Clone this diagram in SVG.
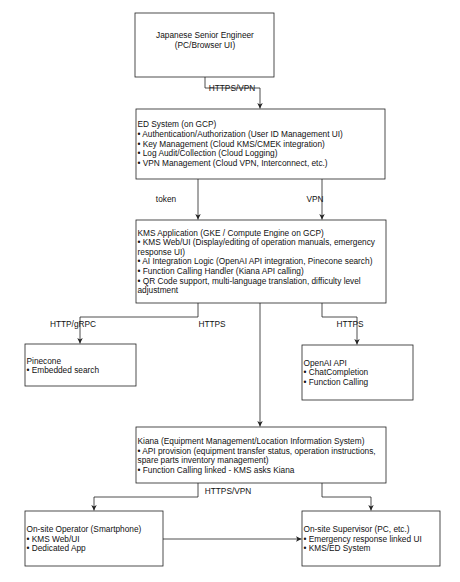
<svg xmlns="http://www.w3.org/2000/svg" width="460" height="582" viewBox="0 0 460 582">
<defs>
<marker id="ah" viewBox="0 0 10 10" refX="10" refY="5" markerWidth="5.5" markerHeight="5.5" orient="auto" markerUnits="userSpaceOnUse">
<path d="M0,0 L10,5 L0,10 L2.5,5 Z" fill="#222"/>
</marker>
<style>
.box{fill:#fff;stroke:#222;stroke-width:0.8}
.t{font-family:"Liberation Sans",Arial,Helvetica,sans-serif;font-size:8.3px;fill:#111}
.c{text-anchor:middle}
.ln{fill:none;stroke:#222;stroke-width:0.8;marker-end:url(#ah)}
</style>
</defs>
<rect width="460" height="582" fill="#fff"/>
<g id="connectors">
<path class="ln" d="M205,77 V88 H260 V108.5"/>
<path class="ln" d="M198,179 V219.5"/>
<path class="ln" d="M322,179 V219.5"/>
<path class="ln" d="M198,303 V317 H80 V343.5"/>
<path class="ln" d="M260,303 V426.5"/>
<path class="ln" d="M322,303 V317 H357 V344.5"/>
<path class="ln" d="M198,483 V497 H94 V510.5"/>
<path class="ln" d="M322,483 V497 H371 V510.5"/>
<path class="ln" d="M163,539 H301.5"/>
<text class="t c" x="232" y="91">HTTPS/VPN</text>
<text class="t c" x="166" y="202">token</text>
<text class="t c" x="315" y="202">VPN</text>
<text class="t c" x="73" y="327">HTTP/gRPC</text>
<text class="t c" x="212" y="327">HTTPS</text>
<text class="t c" x="350" y="327">HTTPS</text>
<text class="t c" x="228" y="494">HTTPS/VPN</text>
</g>
<g id="engineer">
<rect class="box" x="135" y="13" width="139" height="64"/>
<text class="t c" x="205" y="38">Japanese Senior Engineer</text>
<text class="t c" x="205" y="47.6">(PC/Browser UI)</text>
</g>
<g id="ed-system">
<rect class="box" x="136" y="109" width="249" height="70"/>
<text class="t" x="137.5" y="127.3">ED System (on GCP)</text>
<text class="t" x="137.5" y="136.9">• Authentication/Authorization (User ID Management UI)</text>
<text class="t" x="137.5" y="146.5">• Key Management (Cloud KMS/CMEK integration)</text>
<text class="t" x="137.5" y="156.1">• Log Audit/Collection (Cloud Logging)</text>
<text class="t" x="137.5" y="165.7">• VPN Management (Cloud VPN, Interconnect, etc.)</text>
</g>
<g id="kms-app">
<rect class="box" x="136" y="220" width="250" height="83"/>
<text class="t" x="137.5" y="235.5">KMS Application (GKE / Compute Engine on GCP)</text>
<text class="t" x="137.5" y="245.1">• KMS Web/UI (Display/editing of operation manuals, emergency</text>
<text class="t" x="137.5" y="254.7">response UI)</text>
<text class="t" x="137.5" y="264.3">• AI Integration Logic (OpenAI API integration, Pinecone search)</text>
<text class="t" x="137.5" y="273.9">• Function Calling Handler (Kiana API calling)</text>
<text class="t" x="137.5" y="283.5">• QR Code support, multi-language translation, difficulty level</text>
<text class="t" x="137.5" y="293.1">adjustment</text>
</g>
<g id="pinecone">
<rect class="box" x="25" y="344" width="111" height="42"/>
<text class="t" x="26.5" y="363.8">Pinecone</text>
<text class="t" x="26.5" y="373.4">• Embedded search</text>
</g>
<g id="openai">
<rect class="box" x="302" y="345" width="111" height="55"/>
<text class="t" x="303.5" y="365.5">OpenAI API</text>
<text class="t" x="303.5" y="375.1">• ChatCompletion</text>
<text class="t" x="303.5" y="384.7">• Function Calling</text>
</g>
<g id="kiana">
<rect class="box" x="136" y="427" width="250" height="56"/>
<text class="t" x="137.5" y="444">Kiana (Equipment Management/Location Information System)</text>
<text class="t" x="137.5" y="453.6">• API provision (equipment transfer status, operation instructions,</text>
<text class="t" x="137.5" y="463.2">spare parts inventory management)</text>
<text class="t" x="137.5" y="472.8">• Function Calling linked - KMS asks Kiana</text>
</g>
<g id="operator">
<rect class="box" x="25" y="511" width="138" height="55"/>
<text class="t" x="26.5" y="532">On-site Operator (Smartphone)</text>
<text class="t" x="26.5" y="541.6">• KMS Web/UI</text>
<text class="t" x="26.5" y="551.2">• Dedicated App</text>
</g>
<g id="supervisor">
<rect class="box" x="302" y="511" width="138" height="55"/>
<text class="t" x="303.5" y="532">On-site Supervisor (PC, etc.)</text>
<text class="t" x="303.5" y="541.6">• Emergency response linked UI</text>
<text class="t" x="303.5" y="551.2">• KMS/ED System</text>
</g>
</svg>
